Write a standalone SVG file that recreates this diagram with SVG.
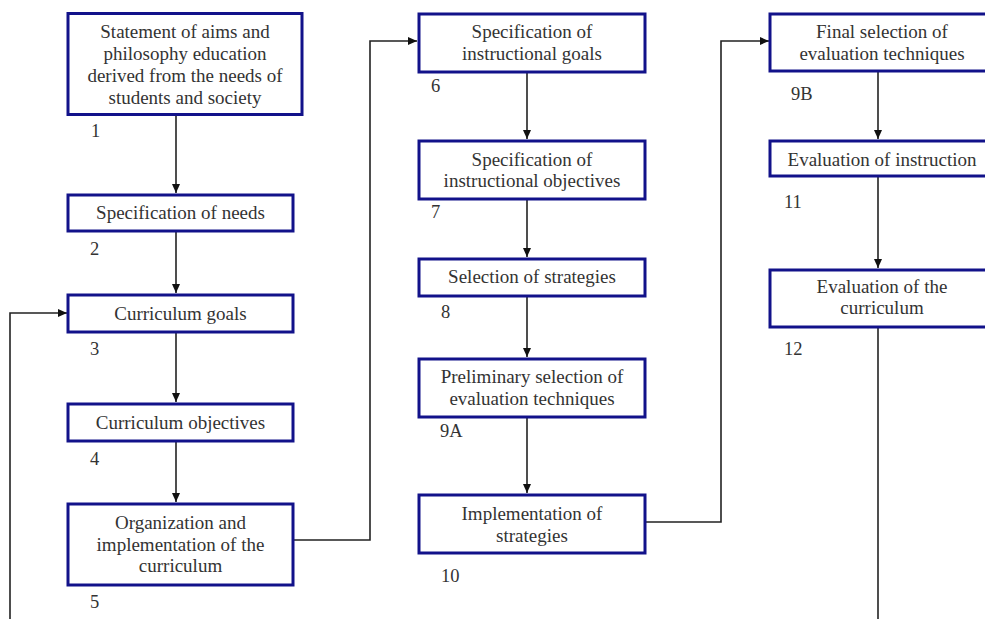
<svg xmlns="http://www.w3.org/2000/svg" width="985" height="619" viewBox="0 0 985 619">
<style>
.box{fill:#fff;stroke:#12128a;stroke-width:3}
.t{font-family:"Liberation Serif","Times New Roman",serif;font-size:19px;fill:#333;text-anchor:middle}
.n{font-family:"Liberation Serif","Times New Roman",serif;font-size:18.5px;fill:#333}
.c{fill:none;stroke:#222;stroke-width:1.6}
</style>
<defs>
<marker id="ah" markerWidth="10" markerHeight="10" refX="9" refY="5" orient="auto" markerUnits="userSpaceOnUse">
<path d="M0,1 L9,5 L0,9 Z" fill="#111"/>
</marker>
</defs>
<rect width="985" height="619" fill="#fff"/>
<g id="connectors">
<line class="c" x1="176" y1="115" x2="176" y2="193" marker-end="url(#ah)"/>
<line class="c" x1="176" y1="231" x2="176" y2="293" marker-end="url(#ah)"/>
<line class="c" x1="176" y1="332" x2="176" y2="402" marker-end="url(#ah)"/>
<line class="c" x1="176" y1="441" x2="176" y2="502" marker-end="url(#ah)"/>
<polyline class="c" points="10,619 10,313 67,313" marker-end="url(#ah)"/>
<polyline class="c" points="293,540 370,540 370,41 417,41" marker-end="url(#ah)"/>
<line class="c" x1="527" y1="72" x2="527" y2="139" marker-end="url(#ah)"/>
<line class="c" x1="527" y1="199" x2="527" y2="257" marker-end="url(#ah)"/>
<line class="c" x1="527" y1="296" x2="527" y2="357" marker-end="url(#ah)"/>
<line class="c" x1="527" y1="417" x2="527" y2="493" marker-end="url(#ah)"/>
<polyline class="c" points="645,522 721,522 721,41 769,41" marker-end="url(#ah)"/>
<line class="c" x1="878" y1="71" x2="878" y2="139" marker-end="url(#ah)"/>
<line class="c" x1="878" y1="176" x2="878" y2="268" marker-end="url(#ah)"/>
<line class="c" x1="878" y1="327" x2="878" y2="619"/>
</g>
<g id="n1"><rect class="box" x="68" y="13.5" width="234" height="101"/>
<text class="t" x="185" y="38">Statement of aims and</text>
<text class="t" x="185" y="60">philosophy education</text>
<text class="t" x="185" y="82">derived from the needs of</text>
<text class="t" x="185" y="104">students and society</text>
<text class="n" x="91" y="137">1</text></g>
<g id="n2"><rect class="box" x="68" y="195" width="225" height="36"/>
<text class="t" x="180.5" y="219">Specification of needs</text>
<text class="n" x="90" y="255">2</text></g>
<g id="n3"><rect class="box" x="68" y="295" width="225" height="37"/>
<text class="t" x="180.5" y="320">Curriculum goals</text>
<text class="n" x="90" y="355">3</text></g>
<g id="n4"><rect class="box" x="68" y="404" width="225" height="37"/>
<text class="t" x="180.5" y="429">Curriculum objectives</text>
<text class="n" x="90" y="465">4</text></g>
<g id="n5"><rect class="box" x="68" y="504" width="225" height="81"/>
<text class="t" x="180.5" y="529">Organization and</text>
<text class="t" x="180.5" y="551">implementation of the</text>
<text class="t" x="180.5" y="572">curriculum</text>
<text class="n" x="90" y="608">5</text></g>
<g id="n6"><rect class="box" x="419" y="14" width="226" height="58"/>
<text class="t" x="532" y="38">Specification of</text>
<text class="t" x="532" y="60">instructional goals</text>
<text class="n" x="431" y="92">6</text></g>
<g id="n7"><rect class="box" x="419" y="141" width="226" height="58"/>
<text class="t" x="532" y="166">Specification of</text>
<text class="t" x="532" y="187">instructional objectives</text>
<text class="n" x="431" y="218">7</text></g>
<g id="n8"><rect class="box" x="419" y="259" width="226" height="37"/>
<text class="t" x="532" y="283">Selection of strategies</text>
<text class="n" x="441" y="318">8</text></g>
<g id="n9a"><rect class="box" x="419" y="359" width="226" height="58"/>
<text class="t" x="532" y="383">Preliminary selection of</text>
<text class="t" x="532" y="405">evaluation techniques</text>
<text class="n" x="440" y="437">9A</text></g>
<g id="n10"><rect class="box" x="419" y="495" width="226" height="58"/>
<text class="t" x="532" y="520">Implementation of</text>
<text class="t" x="532" y="542">strategies</text>
<text class="n" x="441" y="582">10</text></g>
<g id="n9b"><rect class="box" x="770" y="14" width="226" height="57"/>
<text class="t" x="882" y="38">Final selection of</text>
<text class="t" x="882" y="60">evaluation techniques</text>
<text class="n" x="791" y="100">9B</text></g>
<g id="n11"><rect class="box" x="770" y="141" width="226" height="35"/>
<text class="t" x="882" y="166">Evaluation of instruction</text>
<text class="n" x="784" y="208">11</text></g>
<g id="n12"><rect class="box" x="770" y="270" width="226" height="57"/>
<text class="t" x="882" y="293">Evaluation of the</text>
<text class="t" x="882" y="314">curriculum</text>
<text class="n" x="784" y="355">12</text></g>
</svg>
